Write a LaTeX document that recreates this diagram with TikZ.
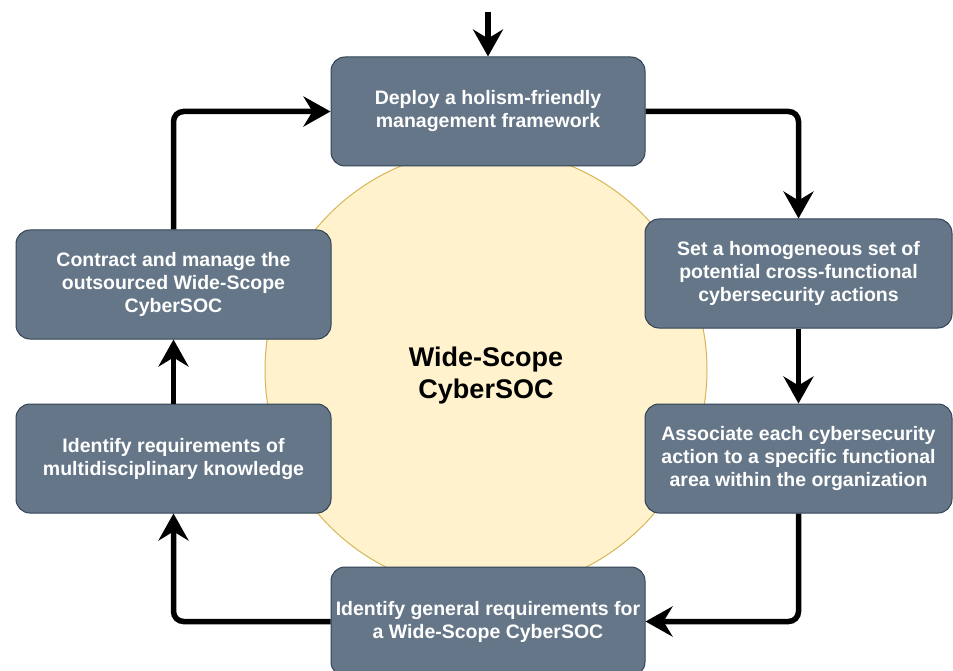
\documentclass[tikz,border=0pt]{standalone}
\usepackage{fontspec}
\setmainfont{Liberation Sans}
\usetikzlibrary{arrows.meta}
\definecolor{boxfill}{HTML}{647687}
\definecolor{boxline}{HTML}{314354}
\definecolor{circfill}{HTML}{FFF2CC}
\definecolor{circline}{HTML}{D6B656}
\begin{document}
\begin{tikzpicture}[x=1pt,y=-1pt,
  stepbox/.style={rectangle, rounded corners=14pt, fill=boxfill, draw=boxline,
    line width=1pt, text=white, font=\fontsize{19.5pt}{23pt}\selectfont\bfseries,
    align=center, inner sep=0pt, minimum height=109pt},
  flow/.style={line width=5.5pt, -{Stealth[length=27pt,width=30pt,inset=9pt]},
    rounded corners=10pt}]
\useasboundingbox (0,0) rectangle (953,671);
\clip (0,0) rectangle (953,671);

\node[circle, fill=circfill, draw=circline, line width=1pt, minimum size=442pt, inner sep=0pt] (hub) at (486,370) {};
\node[font=\fontsize{27pt}{32pt}\selectfont\bfseries, align=center, text=black] (hubtext) at (486,375.5) {Wide-Scope\\CyberSOC};

\node[stepbox, minimum width=314pt] (top) at (488,111.5) {Deploy a holism-friendly\\management framework};
\node[stepbox, minimum width=307pt] (rt) at (798.5,273.5) {Set a homogeneous set of\\potential cross-functional\\cybersecurity actions};
\node[stepbox, minimum width=307pt] (rb) at (798.5,458.5) {Associate each cybersecurity\\action to a specific functional\\area within the organization};
\node[stepbox, minimum width=314pt] (bot) at (488,621.5) {Identify general requirements for\\a Wide-Scope CyberSOC};
\node[stepbox, minimum width=315pt] (lb) at (173.5,458.5) {Identify requirements of\\multidisciplinary knowledge};
\node[stepbox, minimum width=315pt] (lt) at (173.5,284.5) {Contract and manage the\\outsourced Wide-Scope\\CyberSOC};

\coordinate (start) at (488,12);
\draw[flow] (start) -- (top.north);
\draw[flow] (top.east) -| (rt.north);
\draw[flow] (rt.south) -- (rb.north);
\draw[flow] (rb.south) |- (bot.east);
\draw[flow] (bot.west) -| (lb.south);
\draw[flow] (lb.north) -- (lt.south);
\draw[flow] (lt.north) |- (top.west);
\end{tikzpicture}
\end{document}
